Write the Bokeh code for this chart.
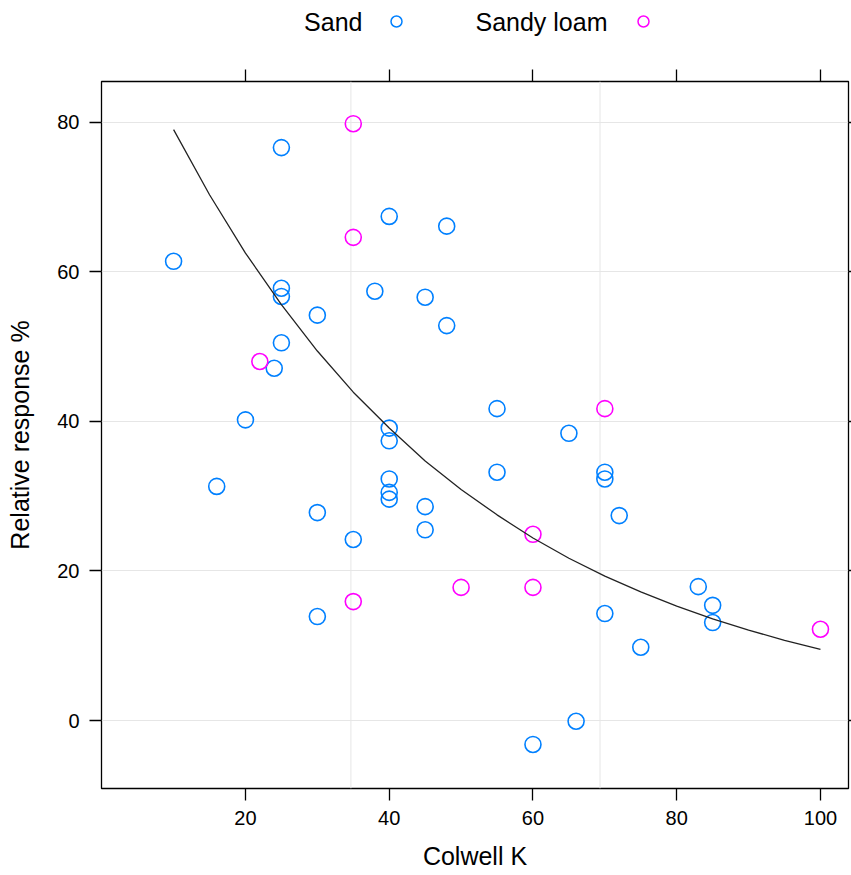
from bokeh.plotting import figure
from bokeh.models import Range1d, LinearAxis, FixedTicker, Span, ColumnDataSource
from bokeh.layouts import column
from bokeh.embed import file_html
from bokeh.resources import INLINE
from bokeh.core.properties import value

# ---------------- data ----------------
sand_x = [10, 25, 25, 25, 25, 24, 20, 16, 30, 30, 30, 35, 38, 40, 40, 40, 40, 40, 40,
          45, 45, 45, 48, 48, 55, 55, 65, 70, 70, 72, 70, 75, 83, 85, 85, 60, 66]
sand_y = [61.4, 76.6, 57.8, 56.7, 50.5, 47.1, 40.2, 31.3, 54.2, 27.8, 13.9, 24.2, 57.4,
          67.4, 39.1, 37.4, 32.3, 30.5, 29.6, 56.6, 28.6, 25.5, 66.1, 52.8, 41.7, 33.2,
          38.4, 33.2, 32.3, 27.4, 14.3, 9.8, 17.9, 15.4, 13.1, -3.2, -0.1]

loam_x = [22, 35, 35, 35, 50, 60, 60, 70, 100]
loam_y = [48.0, 79.8, 64.6, 15.9, 17.8, 24.9, 17.8, 41.7, 12.2]

curve_x = [10, 15, 20, 25, 30, 35, 40, 45, 50, 55, 60, 65, 70, 75, 80, 85, 90, 95, 100]
curve_y = [79.0, 70.3, 62.5, 55.6, 49.4, 43.9, 39.1, 34.7, 30.9, 27.5, 24.4, 21.7,
           19.3, 17.2, 15.3, 13.6, 12.1, 10.7, 9.5]

x_ticks = [20, 40, 60, 80, 100]
y_ticks = [0, 20, 40, 60, 80]
v_grid = [34.67, 69.33]

series_names = ["Sand", "Sandy loam"]
series_colors = ["#0080ff", "#ff00ff"]

x_label = "Colwell K"
y_label = "Relative response %"

FONT = "Liberation Sans"
TITLE_SIZE = "25px"
TICK_SIZE = "20px"

# ---------------- legend strip ----------------
# its frame is aligned with the main plot frame, so use pixel-like ranges over it
leg = figure(width=851, height=69, x_range=Range1d(101, 848), y_range=Range1d(69, 0),
             output_backend="svg", toolbar_location=None,
             min_border_left=101, min_border_right=3, min_border_top=0, min_border_bottom=0)
leg.axis.visible = False
leg.grid.visible = False
leg.outline_line_color = None

leg_text_x = [362, 607]
leg_mark_x = [396, 643]
leg_y = [21, 21]
leg_src = ColumnDataSource(dict(tx=leg_text_x, mx=leg_mark_x, y=leg_y,
                                label=series_names, color=series_colors))
leg.text(x="tx", y="y", text="label", source=leg_src, text_align="right",
         text_baseline="middle", text_font=value(FONT), text_font_size=TITLE_SIZE,
         text_color="#000000")
leg.scatter(x="mx", y="y", source=leg_src, marker="circle", size=11,
            fill_color=None, line_color="color", line_width=1.5)

# ---------------- main plot ----------------
p = figure(width=851, height=806,
           x_range=Range1d(-0.03, 103.9), y_range=Range1d(-9.09, 85.44),
           output_backend="svg", toolbar_location=None,
           min_border_left=101, min_border_right=3, min_border_top=12, min_border_bottom=87)

p.outline_line_color = "#000000"
p.outline_line_width = 1.3

# grids
p.xgrid.visible = False
p.ygrid.ticker = FixedTicker(ticks=y_ticks)
p.ygrid.grid_line_color = "#e6e6e6"
p.ygrid.grid_line_width = 1
for v in v_grid:
    p.add_layout(Span(location=v, dimension="height", line_color="#e6e6e6",
                      line_width=1, level="underlay"))

# axes
for ax in (p.xaxis[0], p.yaxis[0]):
    ax.axis_line_color = None
    ax.major_tick_line_color = "#000000"
    ax.major_tick_line_width = 1.3
    ax.major_tick_out = 12
    ax.major_tick_in = 0
    ax.minor_tick_line_color = None
    ax.major_label_text_font = FONT
    ax.major_label_text_font_size = TICK_SIZE
    ax.major_label_text_color = "#000000"
    ax.axis_label_text_font = FONT
    ax.axis_label_text_font_size = TITLE_SIZE
    ax.axis_label_text_font_style = "normal"
    ax.axis_label_text_color = "#000000"
    ax.major_label_standoff = 10

p.xaxis[0].ticker = FixedTicker(ticks=x_ticks)
p.yaxis[0].ticker = FixedTicker(ticks=y_ticks)
p.xaxis[0].axis_label = x_label
p.yaxis[0].axis_label = y_label
p.xaxis[0].axis_label_standoff = 14
p.yaxis[0].axis_label_standoff = 20
p.yaxis[0].major_label_orientation = "horizontal"


def tick_only_axis(ticks, out):
    a = LinearAxis(ticker=FixedTicker(ticks=ticks))
    a.axis_line_color = None
    a.major_tick_line_color = "#000000"
    a.major_tick_line_width = 1.3
    a.major_tick_out = out
    a.major_tick_in = 0
    a.minor_tick_line_color = None
    a.major_label_text_color = None
    a.major_label_text_font_size = "1px"
    a.major_label_standoff = 0
    return a


p.add_layout(tick_only_axis(x_ticks, 12), "above")
p.add_layout(tick_only_axis(y_ticks, 3), "right")

# points
p.scatter(sand_x, sand_y, marker="circle", size=16, fill_color=None,
          line_color=series_colors[0], line_width=1.6)
p.scatter(loam_x, loam_y, marker="circle", size=16, fill_color=None,
          line_color=series_colors[1], line_width=1.6)

# fitted curve
p.line(curve_x, curve_y, line_color="#222222", line_width=1.3)

layout = column(leg, p, spacing=0)
open("out.html", "w").write(file_html(layout, INLINE))
